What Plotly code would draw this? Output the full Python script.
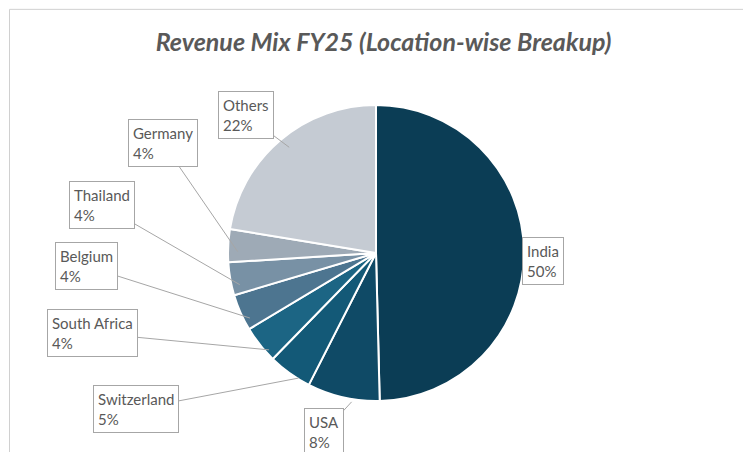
import math
import plotly.graph_objects as go

labels = ["India", "USA", "Switzerland", "South Africa", "Belgium", "Thailand", "Germany", "Others"]
values = [49.6, 7.9, 4.8, 4.1, 4.0, 3.6, 3.6, 22.4]
colors = ["#0b3d55", "#0f4a66", "#135977", "#1c6584", "#4d7590", "#7891a5", "#9eaab6", "#c5cbd3"]
box_pos = [(556, 253), (316, 424), (128, 401), (84, 325), (78, 258), (94, 197), (155, 135), (238, 107)]

W, H = 751, 452
cx, cy, R = 368, 245, 148

fig = go.Figure(go.Pie(
    labels=labels, values=values, sort=False, direction="clockwise", rotation=0,
    marker=dict(colors=colors, line=dict(color="white", width=2)),
    textinfo="none", hoverinfo="label+percent", showlegend=False,
    domain=dict(x=[(cx - R) / W, (cx + R) / W], y=[(H - cy - R) / H, (H - cy + R) / H]),
))

total = sum(values)
cum = 0
for lab, v, (bx, by) in zip(labels, values, box_pos):
    mid = (cum + v / 2) / total * 2 * math.pi
    cum += v
    px = cx + 8 + R * 0.99 * math.sin(mid)
    py = cy + 6 - R * 0.99 * math.cos(mid)
    pct = round(v / total * 100)
    common = dict(xref="paper", yref="paper", text=f"{lab}<br>{pct}%", align="left",
                  bordercolor="#a6a6a6", borderwidth=1, borderpad=4, bgcolor="white",
                  font=dict(size=15, color="#595959"))
    if lab == "India":
        fig.add_annotation(x=bx / W, y=(H - by) / H, showarrow=False, **common)
    else:
        fig.add_annotation(x=px / W, y=(H - py) / H, ax=bx - px, ay=by - py,
                           showarrow=True, arrowhead=0, arrowwidth=1, arrowcolor="#a6a6a6", **common)

fig.update_layout(
    width=W, height=H, margin=dict(l=0, r=0, t=0, b=0),
    paper_bgcolor="white", font=dict(family="Lato, Open Sans, sans-serif"),
    title=dict(text="<b><i>Revenue Mix FY25 (Location-wise Breakup)</i></b>",
               x=0.5, xanchor="center", y=0.925, yanchor="middle",
               font=dict(size=25, color="#595959")),
    shapes=[dict(type="rect", xref="paper", yref="paper", x0=0.002, y0=0.004, x1=0.996, y1=0.997,
                 line=dict(color="#d0d0d0", width=1))],
)
fig.write_html("out.html")
